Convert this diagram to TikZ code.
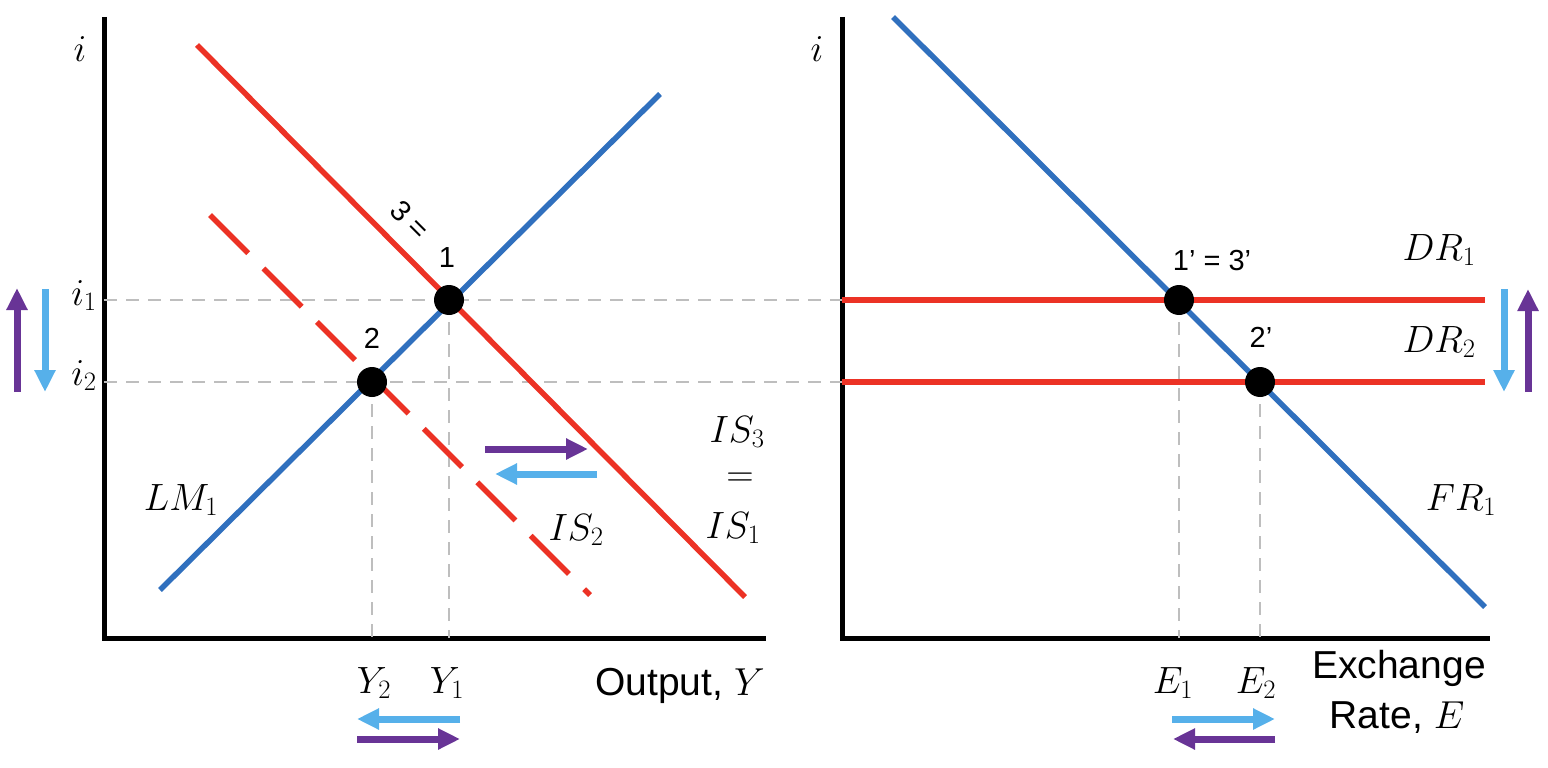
\RequirePackage{fix-cm}
\documentclass[tikz,border=0pt]{standalone}
\usepackage{fontspec}
\setmainfont{Liberation Sans}
\usetikzlibrary{arrows.meta}
\definecolor{cred}{RGB}{236,50,37}
\definecolor{cblue}{RGB}{48,112,190}
\definecolor{lblue}{RGB}{86,176,234}
\definecolor{cpurp}{RGB}{104,52,150}
\definecolor{cgrey}{RGB}{190,190,190}
\begin{document}
\begin{tikzpicture}[x=1pt,y=-1pt,
  axis/.style={line width=5pt,black,line join=miter},
  curve/.style={line width=5.5pt},
  guide/.style={cgrey,line width=2.5pt,dash pattern=on 13pt off 9pt},
  eq/.style={circle,fill=black,minimum size=30pt,inner sep=0pt},
  mlab/.style={font=\fontsize{38}{46}\selectfont,inner sep=0pt,anchor=base},
  slab/.style={font=\fontsize{29}{34}\selectfont,inner sep=0pt,anchor=base},
  tlab/.style={font=\fontsize{39}{46}\selectfont,inner sep=0pt,anchor=base},
  shiftarrow/.style={line width=7pt,-{Triangle[width=20pt,length=22pt]}}]
\useasboundingbox (0,0) rectangle (1548,768);

% axes
\coordinate (LT) at (104,17);
\coordinate (LO) at (104,638);
\coordinate (LR) at (766,638);
\coordinate (RT) at (842,17);
\coordinate (RO) at (842,638);
\coordinate (RR) at (1490,638);
\draw[axis] (LT) -- (LO) -- (LR);
\draw[axis] (RT) -- (RO) -- (RR);

% equilibrium points (positions)
\coordinate (c1) at (449,300);
\coordinate (c2) at (372,382);
\coordinate (c1p) at (1179,300);
\coordinate (c2p) at (1260,382);

% guides
\coordinate (g1a) at (104,300);
\coordinate (g1b) at (842,300);
\coordinate (g2a) at (104,382);
\coordinate (g2b) at (842,382);
\draw[guide] (g1a) -- (g1b);
\draw[guide] (g2a) -- (g2b);
\draw[guide] (c1) -- (c1 |- LO);
\draw[guide] (c2) -- (c2 |- LO);
\draw[guide] (c1p) -- (c1p |- RO);
\draw[guide] (c2p) -- (c2p |- RO);

% curves left
\coordinate (lmA) at (160,590);
\coordinate (lmB) at (660,94);
\coordinate (is1A) at (197,45);
\coordinate (is1B) at (745,597);
\coordinate (is2A) at (210,215);
\coordinate (is2B) at (590,595);
\draw[curve,cblue] (lmA) -- (lmB);
\draw[curve,cred] (is1A) -- (is1B);
\draw[curve,cred,dash pattern=on 54pt off 21.6pt] (is2A) -- (is2B);

% curves right
\coordinate (dr1A) at (842,300);
\coordinate (dr1B) at (1485,300);
\coordinate (dr2A) at (842,382);
\coordinate (dr2B) at (1485,382);
\coordinate (frA) at (893,17);
\coordinate (frB) at (1485,607);
\draw[curve,cblue] (frA) -- (frB);
\draw[curve,cred] (dr1A) -- (dr1B);
\draw[curve,cred] (dr2A) -- (dr2B);

% dots
\node[eq] (p1) at (c1) {};
\node[eq] (p2) at (c2) {};
\node[eq] (p1p) at (c1p) {};
\node[eq] (p2p) at (c2p) {};

% point labels
\node[slab] (n1) at (447,267) {1};
\node[slab] (n2) at (372,348) {2};
\node[font=\fontsize{29}{34}\selectfont,inner sep=0pt,rotate=-45] (n3) at (410,220) {3 =};
\node[slab] (n1p) at (1212,270) {1’ = 3’};
\node[slab] (n2p) at (1261,347) {2’};

% axis labels
\node[mlab] (iL) at (80,62) {$i$};
\node[mlab] (iR) at (817,62) {$i$};
\node[mlab] (i1) at (84,305) {$i_1$};
\node[mlab] (i2) at (84,385) {$i_2$};
\node[mlab] (Y2) at (374,693) {$Y_2$};
\node[mlab] (Y1) at (447,693) {$Y_1$};
\node[mlab] (E1) at (1173,693) {$E_1$};
\node[mlab] (E2) at (1256,693) {$E_2$};
\node[tlab] (outp) at (680,695) {Output, $Y$};
\node[tlab] (exch) at (1399,678) {Exchange};
\node[tlab] (rate) at (1397,728) {Rate, $E$};

% curve labels
\node[mlab] (lmlab) at (181,510) {$LM_1$};
\node[mlab] (is2lab) at (576,540) {$IS_2$};
\node[mlab] (is3lab) at (737,442) {$IS_3$};
\node[mlab,anchor=center] (eqlab) at (740,480) {$=$};
\node[mlab] (is1lab) at (733,538) {$IS_1$};
\node[mlab] (dr1lab) at (1439,260) {$DR_1$};
\node[mlab] (dr2lab) at (1439,352) {$DR_2$};
\node[mlab] (frlab) at (1461,510) {$FR_1$};

% shift arrows
\coordinate (aL1s) at (17,392); \coordinate (aL1e) at (17,288);
\coordinate (aL2s) at (45,289); \coordinate (aL2e) at (45,392);
\coordinate (aR1s) at (1504,289); \coordinate (aR1e) at (1504,392);
\coordinate (aR2s) at (1528,392); \coordinate (aR2e) at (1528,289);
\coordinate (aM1s) at (485,449); \coordinate (aM1e) at (588,449);
\coordinate (aM2s) at (597,474); \coordinate (aM2e) at (495,474);
\coordinate (aB1s) at (460,719); \coordinate (aB1e) at (357,719);
\coordinate (aB2s) at (357,739); \coordinate (aB2e) at (460,739);
\coordinate (aE1s) at (1172,719); \coordinate (aE1e) at (1275,719);
\coordinate (aE2s) at (1275,739); \coordinate (aE2e) at (1173,739);
\draw[shiftarrow,cpurp] (aL1s) -- (aL1e);
\draw[shiftarrow,lblue] (aL2s) -- (aL2e);
\draw[shiftarrow,lblue] (aR1s) -- (aR1e);
\draw[shiftarrow,cpurp] (aR2s) -- (aR2e);
\draw[shiftarrow,cpurp] (aM1s) -- (aM1e);
\draw[shiftarrow,lblue] (aM2s) -- (aM2e);
\draw[shiftarrow,lblue] (aB1s) -- (aB1e);
\draw[shiftarrow,cpurp] (aB2s) -- (aB2e);
\draw[shiftarrow,lblue] (aE1s) -- (aE1e);
\draw[shiftarrow,cpurp] (aE2s) -- (aE2e);
\end{tikzpicture}
\end{document}
